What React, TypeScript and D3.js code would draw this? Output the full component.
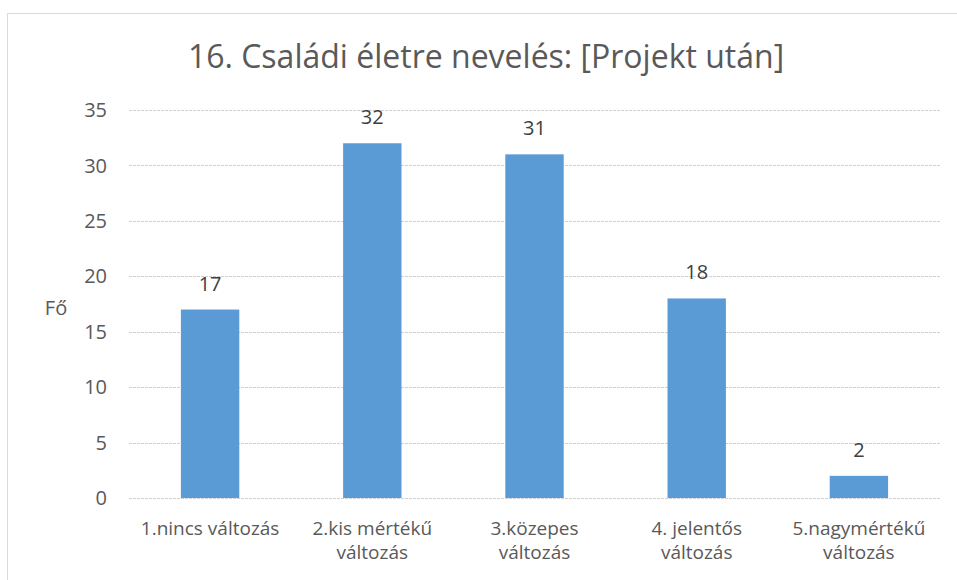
import { useEffect, useRef } from "react";
import * as d3 from "d3";

const categories = [
  "1.nincs változás",
  "2.kis mértékű\nváltozás",
  "3.közepes\nváltozás",
  "4. jelentős\nváltozás",
  "5.nagymértékű\nváltozás",
];
const values = [17, 32, 31, 18, 2];
const yTicks = [0, 5, 10, 15, 20, 25, 30, 35];
const title = "16. Családi életre nevelés: [Projekt után]";
const yLabel = "Fő";

const W = 957;
const H = 580;
const FONT = "'Open Sans', sans-serif";
const TEXT = "#595959";

const App = () => {
  const svgRef = useRef<SVGSVGElement>(null);

  useEffect(() => {
    const svg = d3.select(svgRef.current);
    svg.selectAll("*").remove();

    const margin = { top: 110, right: 17, bottom: 82, left: 129 };

    const x = d3
      .scaleBand()
      .domain(categories)
      .range([margin.left, W - margin.right])
      .paddingInner(0.64)
      .paddingOuter(0.32);

    const y = d3
      .scaleLinear()
      .domain([0, 35])
      .range([H - margin.bottom, margin.top]);

    // chart area border (right/bottom edges fall off the picture)
    svg.append("rect")
      .attr("x", 7.5)
      .attr("y", 13.5)
      .attr("width", W + 20)
      .attr("height", H + 20)
      .attr("fill", "white")
      .attr("stroke", "#d9d9d9")
      .attr("stroke-width", 1);

    svg.append("text")
      .attr("x", 486)
      .attr("y", 68)
      .attr("text-anchor", "middle")
      .attr("font-family", FONT)
      .attr("font-size", 32)
      .attr("fill", TEXT)
      .text(title);

    // gridlines + y labels
    const yAxis = svg.append("g");
    yAxis.selectAll("line")
      .data(yTicks)
      .join("line")
      .attr("x1", margin.left)
      .attr("x2", W - margin.right)
      .attr("y1", d => Math.round(y(d)) + 0.5)
      .attr("y2", d => Math.round(y(d)) + 0.5)
      .attr("stroke", "#d0d0d0")
      .attr("stroke-dasharray", "3,1");

    yAxis.selectAll("text")
      .data(yTicks)
      .join("text")
      .attr("x", 107)
      .attr("y", d => y(d))
      .attr("dy", "0.36em")
      .attr("text-anchor", "end")
      .attr("font-family", FONT)
      .attr("font-size", 20)
      .attr("fill", TEXT)
      .text(d => d);

    svg.append("text")
      .attr("x", 56)
      .attr("y", 315)
      .attr("text-anchor", "middle")
      .attr("font-family", FONT)
      .attr("font-size", 20)
      .attr("fill", TEXT)
      .text(yLabel);

    svg.append("g")
      .selectAll("rect")
      .data(values)
      .join("rect")
      .attr("x", (d, i) => x(categories[i])!)
      .attr("y", d => y(d))
      .attr("width", x.bandwidth())
      .attr("height", d => y(0) - y(d))
      .attr("fill", "#5b9bd5");

    svg.append("g")
      .selectAll("text")
      .data(values)
      .join("text")
      .attr("x", (d, i) => x(categories[i])! + x.bandwidth() / 2)
      .attr("y", d => y(d) - 19)
      .attr("text-anchor", "middle")
      .attr("font-family", FONT)
      .attr("font-size", 20)
      .attr("fill", "#404040")
      .text(d => d);

    // category labels, pre-wrapped
    const xl = svg.append("g");
    categories.forEach(c => {
      const t = xl.append("text")
        .attr("text-anchor", "middle")
        .attr("font-family", FONT)
        .attr("font-size", 19)
        .attr("fill", TEXT);
      c.split("\n").forEach((line, j) => {
        t.append("tspan")
          .attr("x", x(c)! + x.bandwidth() / 2)
          .attr("y", 535 + j * 24)
          .text(line);
      });
    });
  }, []);

  return (
    <svg
      ref={svgRef}
      width={W}
      height={H}
      style={{ position: "absolute", left: 0, top: 0, background: "white" }}
    ></svg>
  );
};

export default App;
